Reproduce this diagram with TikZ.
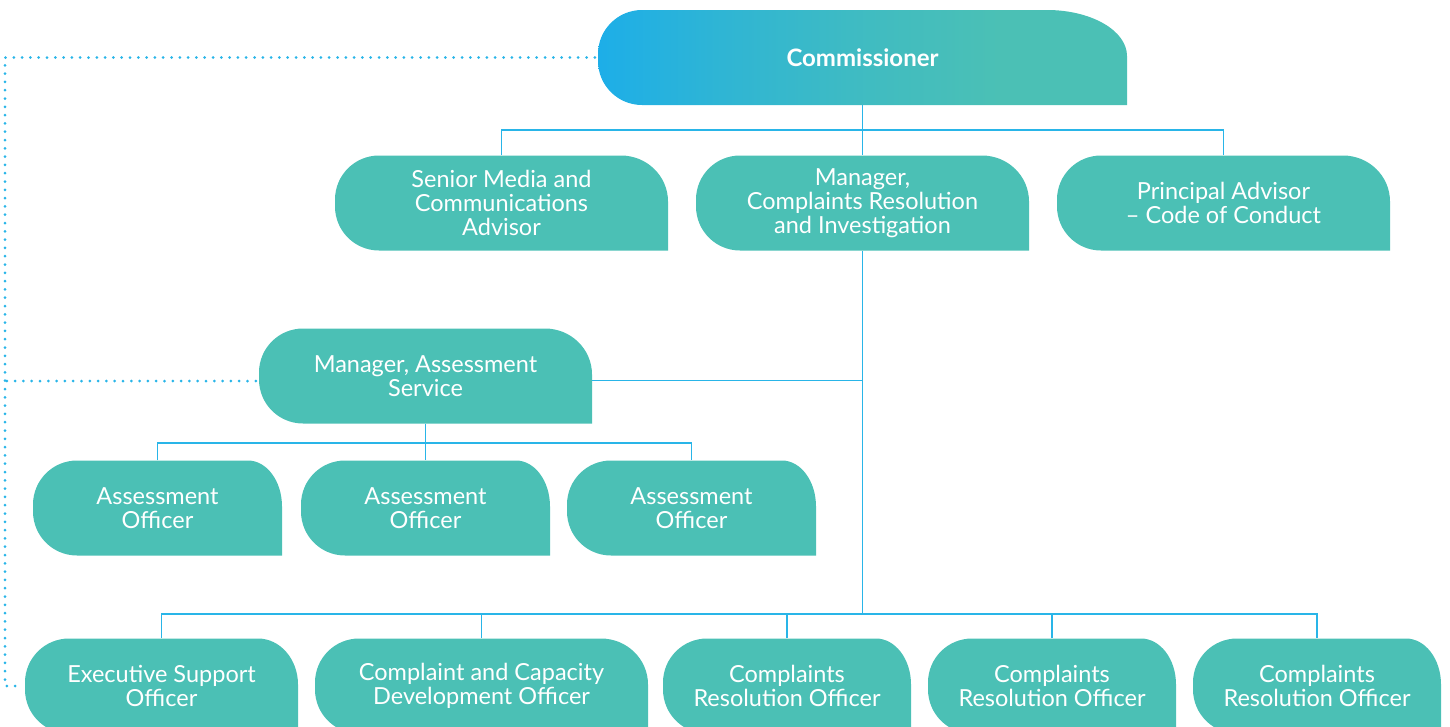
\documentclass[tikz,border=0pt]{standalone}
\usepackage{fontspec}
\setmainfont{Lato}
\usetikzlibrary{calc}

\definecolor{boxteal}{HTML}{4BC0B5}
\definecolor{boxblue}{HTML}{1DAEE8}
\definecolor{linkblue}{HTML}{29B5E8}

% blue to teal, left to right, teal from a little past the middle
\pgfdeclarehorizontalshading{commshade}{100bp}{%
  color(0bp)=(boxblue); color(25bp)=(boxblue);
  color(37bp)=(boxblue!60!boxteal); color(50bp)=(boxteal!75!boxblue);
  color(63bp)=(boxteal); color(100bp)=(boxteal)}

\pgfkeys{/tikz/corner rx/.store in=\cornerrx, /tikz/corner rx=47pt}

\tikzset{
  box paint/.style={fill=boxteal},
  orgbox/.style={
    minimum width=#1, minimum height=95pt, inner sep=0pt,
    text=white, align=center,
    font=\fontsize{23.5pt}{24pt}\selectfont,
    path picture={
      \path[box paint]
        ([xshift=44pt]path picture bounding box.south west)
        -- (path picture bounding box.south east)
        -- ([yshift=-46pt]path picture bounding box.north east)
        arc[start angle=0, end angle=90, x radius=\cornerrx, y radius=46pt]
        -- ([xshift=44pt]path picture bounding box.north west)
        arc[start angle=90, end angle=180, radius=44pt]
        -- ([yshift=44pt]path picture bounding box.south west)
        arc[start angle=180, end angle=270, radius=44pt]
        -- cycle;
    }},
  link/.style={draw=linkblue, line width=1.5pt},
  dotlink/.style={draw=linkblue, line width=3pt, line cap=round,
    dash pattern=on 0pt off 8.3pt}
}

\begin{document}
\begin{tikzpicture}[x=1pt,y=1pt]
\useasboundingbox (0,0) rectangle (1450,-726);
\clip (0,0) rectangle (1450,-726);

% top of the chart
\node[orgbox=529pt, corner rx=80pt,
      box paint/.style={shading=commshade},
      font=\fontsize{24pt}{24pt}\selectfont\bfseries]
  (comm) at (862.5,-57.5) {Commissioner};

% direct reports
\node[orgbox=333pt] (smca) at (501.5,-203) {Senior Media and\\Communications\\Advisor};
\node[orgbox=333pt] (mcri) at (862.5,-203) {Manager,\\Complaints Resolution\\and Investigation};
\node[orgbox=333pt] (pa)   at (1223.5,-203) {Principal Advisor\\– Code of Conduct};

% assessment service
\node[orgbox=333pt] (mas) at (425.5,-376) {Manager, Assessment\\Service};
\node[orgbox=249pt, corner rx=34pt] (ao1) at (157.5,-508) {Assessment\\Officer};
\node[orgbox=249pt, corner rx=34pt] (ao2) at (425.5,-508) {Assessment\\Officer};
\node[orgbox=249pt, corner rx=34pt] (ao3) at (691.5,-508) {Assessment\\Officer};

% complaints resolution team
\node[orgbox=273pt, corner rx=40pt] (eso)  at (161.5,-686) {Executive Support\\Officer};
\node[orgbox=333pt]                 (ccdo) at (481.5,-686) {Complaint and Capacity\\Development Officer};
\node[orgbox=248pt, corner rx=35pt] (cro1) at (787,-686) {Complaints\\Resolution Officer};
\node[orgbox=248pt, corner rx=35pt] (cro2) at (1052,-686) {Complaints\\Resolution Officer};
\node[orgbox=248pt, corner rx=35pt] (cro3) at (1317,-686) {Complaints\\Resolution Officer};

% reporting lines
\coordinate (hub1) at (862.5,-130);
\draw[link] (comm.south) -- (hub1);
\draw[link] (smca.north) |- (hub1) -| (pa.north);
\draw[link] (hub1) -- (mcri.north);

\coordinate (bus) at (862.5,-614);
\draw[link] (mcri.south) -- (bus);
\draw[link] ([yshift=-4.5pt]mas.east) -- ([yshift=-4.5pt]mas.east -| mcri.south);

\coordinate (hub2) at (425.5,-443);
\draw[link] (mas.south) -- (hub2);
\draw[link] (ao1.north) |- (hub2) -| (ao3.north);
\draw[link] (hub2) -- (ao2.north);

\draw[link] (eso.north) |- (bus) -| (cro3.north);
\draw[link] (ccdo.north) -- (ccdo.north |- bus);
\draw[link] (cro1.north) -- (cro1.north |- bus);
\draw[link] (cro2.north) -- (cro2.north |- bus);

% dotted lines back to the Commissioner
\coordinate (rail) at (5,-56.5);
\draw[dotlink] ([xshift=-3pt]comm.west) -- (comm.west -| rail) -- (rail |- eso.west) -- ([xshift=-4pt]eso.west);
\draw[dotlink] ([xshift=-3pt,yshift=-5pt]mas.west) -- ([yshift=-5pt]mas.west -| rail);
\end{tikzpicture}
\end{document}
